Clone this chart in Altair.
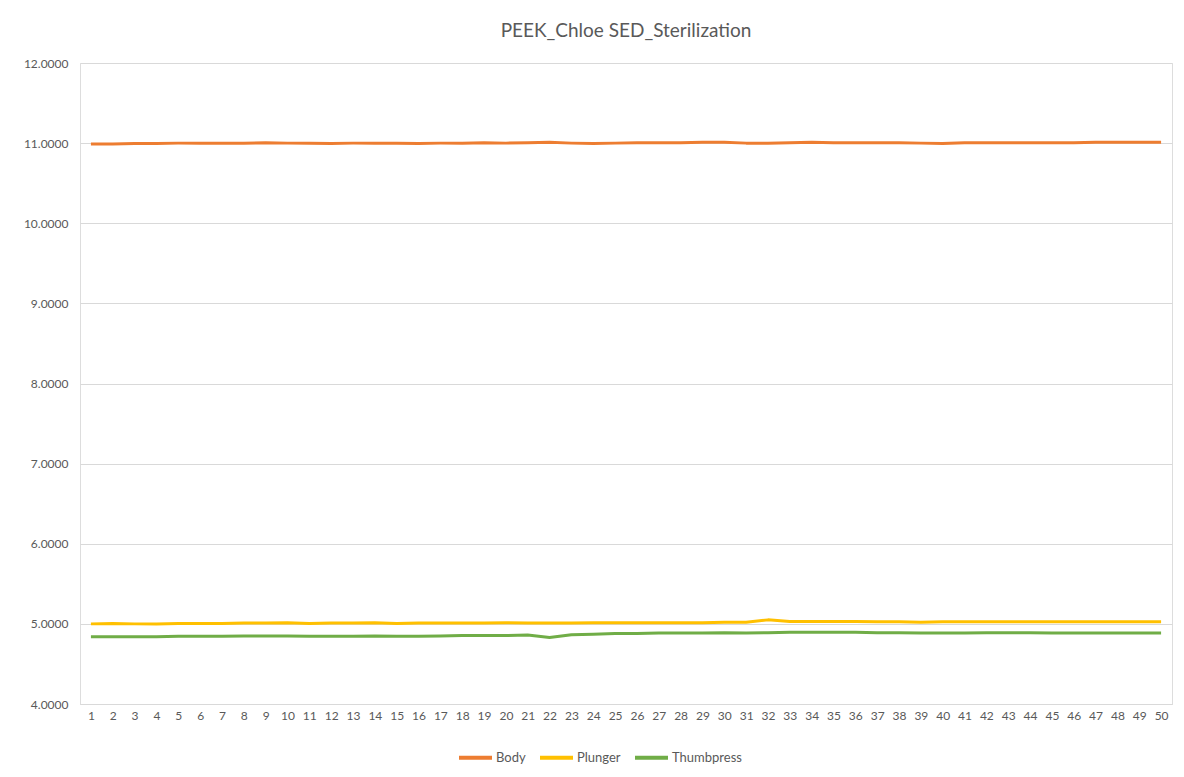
import altair as alt
import pandas as pd

samples = list(range(1, 51))
body = [10.99, 10.99, 10.995, 10.995, 11.0, 11.0, 11.0, 11.0, 11.005, 11.0,
        11.0, 10.995, 11.0, 11.0, 11.0, 10.995, 11.0, 11.0, 11.005, 11.0,
        11.005, 11.01, 11.0, 10.995, 11.0, 11.005, 11.005, 11.005, 11.01, 11.01,
        11.0, 11.0, 11.005, 11.01, 11.005, 11.005, 11.005, 11.005, 11.0, 10.995,
        11.005, 11.005, 11.005, 11.005, 11.005, 11.005, 11.01, 11.01, 11.01, 11.01]
plunger = [5.0, 5.005, 5.0, 5.0, 5.005, 5.005, 5.005, 5.01, 5.01, 5.015,
           5.005, 5.01, 5.01, 5.015, 5.005, 5.01, 5.01, 5.01, 5.01, 5.015,
           5.01, 5.01, 5.01, 5.015, 5.015, 5.015, 5.015, 5.015, 5.015, 5.02,
           5.02, 5.05, 5.03, 5.03, 5.03, 5.03, 5.025, 5.025, 5.02, 5.025,
           5.025, 5.025, 5.025, 5.025, 5.025, 5.025, 5.025, 5.025, 5.025, 5.025]
thumbpress = [4.84, 4.84, 4.84, 4.84, 4.845, 4.845, 4.845, 4.85, 4.85, 4.85,
              4.845, 4.845, 4.845, 4.85, 4.845, 4.845, 4.85, 4.855, 4.855, 4.855,
              4.86, 4.83, 4.865, 4.87, 4.88, 4.88, 4.885, 4.885, 4.885, 4.89,
              4.885, 4.89, 4.895, 4.895, 4.895, 4.895, 4.89, 4.89, 4.885, 4.885,
              4.885, 4.89, 4.89, 4.89, 4.885, 4.885, 4.885, 4.885, 4.885, 4.885]
series_names = ["Body", "Plunger", "Thumbpress"]
series_colors = ["#ED7D31", "#FFC000", "#70AD47"]

rows = []
for name, vals in zip(series_names, [body, plunger, thumbpress]):
    for s, v in zip(samples, vals):
        rows.append({"Sample": s, "Value": v, "Series": name})
df = pd.DataFrame(rows)

FONT = "Lato"
GRAY = "#595959"

chart = alt.Chart(df).mark_line(strokeWidth=3, strokeJoin="round").encode(
    x=alt.X("Sample:O", title=None,
            scale=alt.Scale(type="point", padding=0.5),
            axis=alt.Axis(labelAngle=0, ticks=False, domainColor="#D9D9D9",
                          labelColor=GRAY, labelFont=FONT, labelFontSize=12,
                          labelPadding=6, grid=False)),
    y=alt.Y("Value:Q", title=None,
            scale=alt.Scale(domain=[4, 12], nice=False, zero=False),
            axis=alt.Axis(values=[4, 5, 6, 7, 8, 9, 10, 11, 12], format=".4f",
                          domain=False, ticks=False, gridColor="#D9D9D9",
                          labelColor=GRAY, labelFont=FONT, labelFontSize=12,
                          labelPadding=12)),
    color=alt.Color("Series:N", sort=series_names,
                    scale=alt.Scale(domain=series_names, range=series_colors),
                    legend=alt.Legend(title=None, orient="none", direction="horizontal",
                                      legendX=377, legendY=676,
                                      symbolType="stroke", symbolStrokeWidth=4,
                                      symbolSize=1089, labelFont=FONT, labelFontSize=13,
                                      labelColor=GRAY, columnPadding=6,
                                      labelOffset=2)),
).properties(
    width=1092, height=641,
    title=alt.TitleParams("PEEK_Chloe SED_Sterilization", font=FONT, fontSize=19,
                          fontWeight="normal", color=GRAY, anchor="middle", offset=16),
    autosize=alt.AutoSizeParams(type="none"),
    padding={"left": 72, "top": 55, "right": 4, "bottom": 65},
).configure_view(stroke=None).configure(background="white")

chart.save("out.html", embed_options={"renderer": "svg", "actions": False})
